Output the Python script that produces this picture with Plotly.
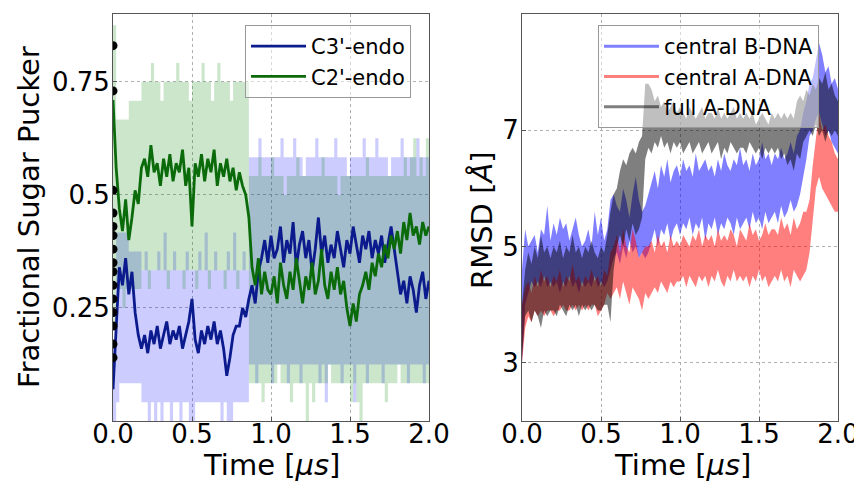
import numpy as np
import plotly.graph_objects as go

# time grid in microseconds (0.02 us sampling)
time_us = np.round(np.linspace(0.0, 2.0, 101), 2)

# ---- left panel: fractional sugar pucker (running averages) ----
c3_endo = [0.07, 0.22, 0.34, 0.30, 0.36, 0.28, 0.33, 0.24, 0.19, 0.16,
           0.19, 0.15, 0.20, 0.17, 0.21, 0.16, 0.19, 0.22, 0.17, 0.20,
           0.18, 0.21, 0.16, 0.19, 0.22, 0.27, 0.18, 0.15, 0.20, 0.17,
           0.21, 0.18, 0.22, 0.17, 0.20, 0.16, 0.10, 0.14, 0.19, 0.21,
           0.21, 0.25, 0.23, 0.27, 0.30, 0.26, 0.33, 0.36, 0.40, 0.35,
           0.41, 0.36, 0.38, 0.43, 0.35, 0.40, 0.37, 0.44, 0.34, 0.39,
           0.42, 0.36, 0.40, 0.33, 0.38, 0.45, 0.37, 0.41, 0.35, 0.39,
           0.36, 0.42, 0.38, 0.34, 0.40, 0.37, 0.43, 0.39, 0.35, 0.41,
           0.38, 0.42, 0.36, 0.40, 0.37, 0.41, 0.35, 0.39, 0.43, 0.38,
           0.33, 0.28, 0.31, 0.26, 0.32, 0.29, 0.24, 0.30, 0.33, 0.27, 0.31]
c2_endo = [0.71, 0.56, 0.47, 0.42, 0.49, 0.40, 0.45, 0.51, 0.48, 0.56,
           0.58, 0.54, 0.61, 0.55, 0.57, 0.52, 0.58, 0.54, 0.59, 0.53,
           0.57, 0.55, 0.60, 0.52, 0.56, 0.43, 0.57, 0.54, 0.59, 0.53,
           0.58, 0.55, 0.60, 0.52, 0.57, 0.54, 0.58, 0.53, 0.56, 0.51,
           0.55, 0.52, 0.50, 0.45, 0.34, 0.30, 0.36, 0.28, 0.33, 0.29,
           0.28, 0.32, 0.26, 0.35, 0.30, 0.27, 0.33, 0.29, 0.36, 0.31,
           0.26, 0.32, 0.29, 0.35, 0.28, 0.31, 0.38, 0.30, 0.27, 0.33,
           0.29, 0.34, 0.28, 0.31, 0.25, 0.21, 0.26, 0.22, 0.28, 0.30,
           0.33, 0.29, 0.35, 0.32, 0.37, 0.34, 0.39, 0.36, 0.41, 0.38,
           0.42, 0.37, 0.44, 0.40, 0.46, 0.41, 0.43, 0.39, 0.44, 0.41, 0.43]

# instantaneous pucker ranges, counted out of 24 sugars
c3_min_of24 = [0, 1, 2, 2, 2, 2, 2, 2, 2, 1,
               1, 0, 1, 0, 1, 0, 1, 1, 0, 1,
               1, 0, 1, 1, 0, 0, 1, 1, 1, 1,
               1, 1, 1, 1, 0, 1, 0, 0, 1, 1,
               1, 1, 1, 3, 3, 2, 3, 3, 3, 3,
               2, 3, 3, 3, 3, 2, 3, 3, 3, 2,
               3, 3, 3, 3, 3, 2, 3, 1, 3, 3,
               3, 3, 2, 3, 3, 3, 1, 3, 3, 3,
               2, 3, 3, 3, 3, 2, 3, 3, 3, 3,
               3, 3, 3, 2, 3, 3, 3, 3, 2, 3, 3]
c3_max_of24 = [4, 10, 10, 10, 10, 9, 9, 9, 9, 8,
               9, 8, 8, 8, 9, 8, 10, 8, 8, 9,
               8, 8, 8, 9, 8, 8, 8, 9, 8, 10,
               8, 8, 9, 8, 8, 8, 9, 8, 10, 8,
               8, 9, 8, 14, 14, 14, 15, 14, 14, 14,
               14, 14, 14, 15, 14, 14, 14, 15, 14, 14,
               13, 14, 14, 14, 15, 14, 14, 14, 14, 14,
               15, 14, 14, 14, 13, 14, 14, 14, 14, 15,
               14, 14, 14, 15, 14, 14, 14, 13, 14, 14,
               14, 15, 14, 14, 14, 14, 15, 14, 14, 14, 14]
c2_min_of24 = [5, 7, 7, 6, 7, 7, 7, 7, 7, 8,
               8, 7, 8, 8, 8, 8, 8, 7, 8, 8,
               8, 8, 7, 8, 8, 8, 7, 8, 8, 8,
               7, 8, 8, 8, 8, 7, 8, 8, 8, 7,
               8, 8, 8, 2, 2, 2, 2, 1, 2, 2,
               2, 2, 3, 2, 2, 2, 1, 2, 2, 2,
               2, 0, 2, 1, 2, 2, 2, 2, 3, 2,
               2, 2, 2, 2, 2, 1, 2, 1, 0, 2,
               2, 2, 2, 2, 2, 2, 1, 2, 2, 2,
               3, 2, 2, 2, 2, 2, 2, 2, 2, 2, 2]
c2_max_of24 = [21, 16, 16, 16, 16, 17, 17, 17, 17, 18,
               18, 18, 19, 18, 18, 17, 18, 18, 18, 18,
               19, 18, 18, 18, 17, 18, 18, 18, 19, 18,
               18, 17, 18, 19, 18, 18, 18, 17, 18, 18,
               18, 18, 18, 13, 13, 13, 14, 13, 13, 13,
               14, 13, 13, 13, 12, 13, 13, 13, 14, 13,
               13, 13, 13, 13, 13, 13, 14, 13, 13, 13,
               13, 12, 13, 13, 13, 13, 13, 13, 13, 13,
               14, 13, 13, 13, 13, 13, 13, 13, 13, 13,
               13, 13, 14, 13, 14, 15, 13, 14, 13, 15, 14]
n_sugars = 24

# first frames (shown as dots on the t=0 axis)
start_values = [0.83, 0.73, 0.51, 0.46, 0.43, 0.41, 0.38, 0.35,
                0.33, 0.30, 0.27, 0.24, 0.21, 0.17, 0.14]

# ---- right panel: RMSD ranges (Angstrom) ----
bdna_lo = [3.0, 4.0, 4.2, 4.4, 4.3, 4.4, 4.3, 4.5, 4.3, 4.4,
           4.3, 4.4, 4.2, 4.4, 4.3, 4.5, 4.3, 4.4, 4.2, 4.4,
           4.3, 4.4, 4.3, 4.5, 4.3, 4.4, 4.3, 4.4, 4.6, 4.8,
           4.9, 4.7, 5.0, 4.8, 5.1, 4.9, 5.0, 4.8, 4.9, 4.8,
           4.9, 5.1, 5.3, 5.0, 5.3, 5.2, 5.4, 5.1, 5.3, 5.4,
           5.2, 5.4, 5.3, 5.5, 5.2, 5.4, 5.3, 5.5, 5.1, 5.4,
           5.3, 5.5, 5.2, 5.4, 5.3, 5.5, 5.4, 5.2, 5.5, 5.3,
           5.4, 5.5, 5.3, 5.6, 5.4, 5.5, 5.3, 5.6, 5.4, 5.5,
           5.6, 5.4, 5.7, 5.5, 5.6, 5.8, 5.6, 5.7, 5.9, 6.2,
           6.5, 6.9, 7.0, 7.2, 7.3, 7.1, 6.9, 7.0, 6.8, 6.7, 6.6]
bdna_hi = [4.6, 5.3, 5.0, 5.1, 5.2, 4.9, 5.3, 5.2, 5.7, 5.1,
           5.4, 5.2, 5.5, 5.3, 5.4, 5.1, 5.3, 5.5, 5.2, 5.0,
           5.1, 5.3, 5.0, 5.6, 5.2, 5.5, 5.1, 5.3, 5.8, 5.9,
           5.7, 5.6, 6.0, 5.8, 5.5, 5.9, 6.2, 5.8, 5.6, 5.7,
           5.9, 6.1, 6.3, 6.0, 6.4, 6.2, 6.5, 6.1, 6.3, 6.4,
           6.2, 6.5, 6.3, 6.4, 6.2, 6.6, 6.3, 6.4, 6.5, 6.3,
           6.4, 6.2, 6.5, 6.3, 6.6, 6.4, 6.3, 6.5, 6.4, 6.7,
           6.4, 6.5, 6.3, 6.6, 6.4, 6.5, 6.8, 6.5, 6.6, 6.4,
           6.6, 6.5, 6.7, 6.5, 6.6, 6.8, 6.6, 6.9, 7.0, 7.3,
           7.5, 7.8, 7.9, 8.2, 8.5, 8.3, 8.0, 8.1, 7.8, 7.9, 7.7]
adna_lo = [3.0, 3.6, 3.8, 3.7, 3.9, 3.8, 3.9, 3.8, 3.9, 3.9,
           3.8, 3.9, 3.9, 4.0, 3.9, 3.9, 4.0, 3.9, 4.0, 3.9,
           4.0, 3.9, 4.0, 4.0, 3.8, 3.9, 4.0, 4.2, 4.1, 4.2,
           4.3, 4.1, 4.4, 4.2, 4.0, 4.3, 4.2, 4.1, 3.9, 4.2,
           4.1, 4.2, 4.3, 4.2, 4.4, 4.3, 4.2, 4.4, 4.3, 4.4,
           4.4, 4.5, 4.3, 4.5, 4.4, 4.3, 4.5, 4.4, 4.5, 4.3,
           4.5, 4.4, 4.6, 4.4, 4.3, 4.5, 4.4, 4.6, 4.4, 4.5,
           4.4, 4.5, 4.3, 4.5, 4.4, 4.6, 4.4, 4.5, 4.3, 4.4,
           4.5, 4.4, 4.6, 4.4, 4.5, 4.3, 4.6, 4.5, 4.4, 4.5,
           4.6, 4.9, 5.4, 6.0, 6.2, 6.0, 5.9, 5.8, 5.7, 5.6, 5.6]
adna_hi = [4.0, 4.3, 4.4, 4.2, 4.5, 4.3, 4.6, 4.4, 4.5, 4.3,
           4.5, 4.4, 4.6, 4.3, 4.5, 4.4, 4.7, 4.4, 4.5, 4.3,
           4.5, 4.4, 4.6, 4.4, 4.5, 4.3, 4.6, 4.5, 4.9, 5.0,
           5.2, 4.9, 5.3, 5.0, 4.9, 5.3, 5.1, 4.8, 4.9, 5.0,
           5.0, 5.1, 4.9, 5.2, 5.0, 5.1, 4.9, 5.2, 5.0, 5.1,
           5.0, 5.2, 5.1, 5.0, 5.2, 5.1, 5.3, 5.0, 5.2, 5.1,
           5.2, 5.0, 5.3, 5.1, 5.2, 5.1, 5.3, 5.2, 5.0, 5.3,
           5.2, 5.1, 5.4, 5.2, 5.3, 5.1, 5.2, 5.4, 5.2, 5.3,
           5.3, 5.2, 5.5, 5.3, 5.4, 5.2, 5.5, 5.3, 5.4, 5.6,
           5.6, 5.8, 6.4, 6.9, 7.3, 7.0, 7.1, 6.9, 6.8, 6.6, 6.5]
full_lo = [3.1, 3.8, 3.9, 3.7, 3.9, 3.8, 3.6, 3.9, 3.8, 3.9,
           3.9, 3.8, 4.0, 3.9, 3.8, 4.0, 3.9, 4.0, 3.8, 4.0,
           3.9, 4.0, 3.9, 4.0, 3.9, 3.9, 4.0, 4.0, 3.7, 4.6,
           5.0, 5.2, 5.0, 5.3, 5.1, 5.4, 5.2, 5.3, 5.5, 6.5,
           6.7, 6.6, 6.8, 6.7, 6.9, 6.7, 6.8, 6.6, 6.8, 6.7,
           6.8, 6.6, 6.7, 6.8, 6.6, 6.7, 6.8, 6.6, 6.7, 6.8,
           6.6, 6.7, 6.8, 6.5, 6.7, 6.6, 6.8, 6.7, 6.6, 6.7,
           6.7, 6.6, 6.8, 6.7, 6.6, 6.7, 6.5, 6.7, 6.6, 6.7,
           6.6, 6.7, 6.5, 6.6, 6.4, 6.5, 6.3, 6.6, 6.5, 6.8,
           6.9, 7.0, 6.9, 7.1, 6.9, 7.0, 6.8, 7.0, 6.9, 7.0, 6.9]
full_hi = [4.0, 4.6, 4.9, 4.7, 5.0, 4.8, 5.2, 4.9, 5.0, 4.8,
           5.0, 4.9, 5.1, 4.8, 5.0, 4.9, 5.2, 4.9, 5.0, 4.8,
           5.0, 4.9, 5.1, 4.9, 4.8, 5.0, 4.9, 5.2, 5.6, 5.9,
           6.0, 6.3, 6.5, 6.4, 6.6, 6.7, 6.6, 6.8, 6.9, 7.8,
           7.8, 7.7, 7.5, 7.6, 7.4, 7.5, 7.3, 7.4, 7.5, 7.3,
           7.4, 7.3, 7.2, 7.4, 7.3, 7.2, 7.3, 7.4, 7.2, 7.3,
           7.3, 7.2, 7.4, 7.2, 7.3, 7.2, 7.3, 7.4, 7.2, 7.3,
           7.2, 7.3, 7.2, 7.3, 7.1, 7.2, 7.3, 7.2, 7.1, 7.3,
           7.2, 7.3, 7.2, 7.3, 7.2, 7.3, 7.2, 7.5, 7.6, 7.5,
           7.7, 7.6, 7.8, 7.7, 7.9, 7.8, 8.0, 7.7, 7.8, 7.6, 7.5]

FONT = "DejaVu Sans"
# the page body adds an 8 px margin, so the figure is 8 px smaller than the window
OFF = 8
W, H = 862 - OFF, 484 - OFF


def px(x):
    return (x - OFF) / W


def py(y):
    return 1 - (y - OFF) / H


fig = go.Figure()


def add_band(lo, hi, color, xa, ya, shape):
    fig.add_trace(go.Scatter(x=time_us, y=lo, mode="lines", xaxis=xa, yaxis=ya,
                             line=dict(width=0, color="rgba(0,0,0,0)", shape=shape),
                             showlegend=False, hoverinfo="skip"))
    fig.add_trace(go.Scatter(x=time_us, y=hi, mode="lines", xaxis=xa, yaxis=ya,
                             line=dict(width=0, color="rgba(0,0,0,0)", shape=shape),
                             fill="tonexty", fillcolor=color,
                             showlegend=False, hoverinfo="skip"))


# left panel
add_band(np.array(c3_min_of24) / n_sugars, np.array(c3_max_of24) / n_sugars,
         "rgba(0,0,255,0.2)", "x", "y", "hv")
add_band(np.array(c2_min_of24) / n_sugars, np.array(c2_max_of24) / n_sugars,
         "rgba(0,128,0,0.2)", "x", "y", "hv")
fig.add_trace(go.Scatter(x=time_us, y=c3_endo, mode="lines", name="C3'-endo",
                         line=dict(color="#0b1a8c", width=2.8), legend="legend"))
fig.add_trace(go.Scatter(x=time_us, y=c2_endo, mode="lines", name="C2'-endo",
                         line=dict(color="#0b6b0b", width=2.8), legend="legend"))
fig.add_trace(go.Scatter(x=[0.0] * len(start_values), y=start_values, mode="markers",
                         marker=dict(color="black", size=9), showlegend=False))

# right panel
add_band(bdna_lo, bdna_hi, "rgba(0,0,255,0.5)", "x2", "y2", "linear")
add_band(adna_lo, adna_hi, "rgba(255,0,0,0.5)", "x2", "y2", "linear")
add_band(full_lo, full_hi, "rgba(0,0,0,0.5)", "x2", "y2", "linear")
for name, col in [("central B-DNA", "rgba(0,0,255,0.5)"),
                  ("central A-DNA", "rgba(255,0,0,0.5)"),
                  ("full A-DNA", "rgba(0,0,0,0.5)")]:
    fig.add_trace(go.Scatter(x=[None], y=[None], mode="lines", name=name,
                             line=dict(color=col, width=3),
                             xaxis="x2", yaxis="y2", legend="legend2"))

axis_common = dict(showgrid=True, gridcolor="#b0b0b0", griddash="dot", gridwidth=1,
                   showline=True, mirror=True, linecolor="#555555", linewidth=1,
                   zeroline=False, ticks="inside", ticklen=4, tickcolor="#555555",
                   automargin=False,
                   tickfont=dict(family=FONT, size=26, color="black"))
xticks = dict(tickvals=[0, 0.5, 1.0, 1.5, 2.0],
              ticktext=["0.0", "0.5", "1.0", "1.5", "2.0"], range=[0, 2],
              ticklabelstandoff=-10)
ydom = [py(421), py(14)]

legend_common = dict(xanchor="left", yanchor="top", traceorder="normal",
                     bgcolor="rgba(255,255,255,0.5)", bordercolor="#999999",
                     borderwidth=1, itemwidth=55,
                     font=dict(family=FONT, size=21, color="black"))

fig.update_layout(
    width=W, height=H,
    margin=dict(l=0, r=0, t=0, b=0),
    paper_bgcolor="white", plot_bgcolor="white",
    font=dict(family=FONT, color="black"),
    xaxis=dict(domain=[px(113), px(429)], anchor="y", **xticks, **axis_common),
    yaxis=dict(domain=ydom, anchor="x", range=[0, 0.9], ticklabelstandoff=-3,
               tickvals=[0.25, 0.5, 0.75], ticktext=["0.25", "0.5", "0.75"], **axis_common),
    xaxis2=dict(domain=[px(522), px(838)], anchor="y2", **xticks, **axis_common),
    yaxis2=dict(domain=ydom, anchor="x2", range=[2, 9], ticklabelstandoff=-3,
                tickvals=[3, 5, 7], ticktext=["3", "5", "7"], **axis_common),
    legend=dict(x=px(245), y=py(25), **legend_common),
    legend2=dict(x=px(598), y=py(25), **legend_common),
    showlegend=True,
)

title_font = dict(family=FONT, size=29, color="black")
for text, x, y, angle in [("Fractional Sugar Pucker", 29, 217, -90),
                          ("RMSD [<i>Å</i>]", 482, 220, -90),
                          ("Time [<i>μs</i>]", 271, 465, 0),
                          ("Time [<i>μs</i>]", 682, 465, 0)]:
    fig.add_annotation(text=text, x=px(x), y=py(y), xref="paper", yref="paper",
                       xanchor="center", yanchor="middle", textangle=angle,
                       showarrow=False, font=title_font)

fig.write_html("out.html")
